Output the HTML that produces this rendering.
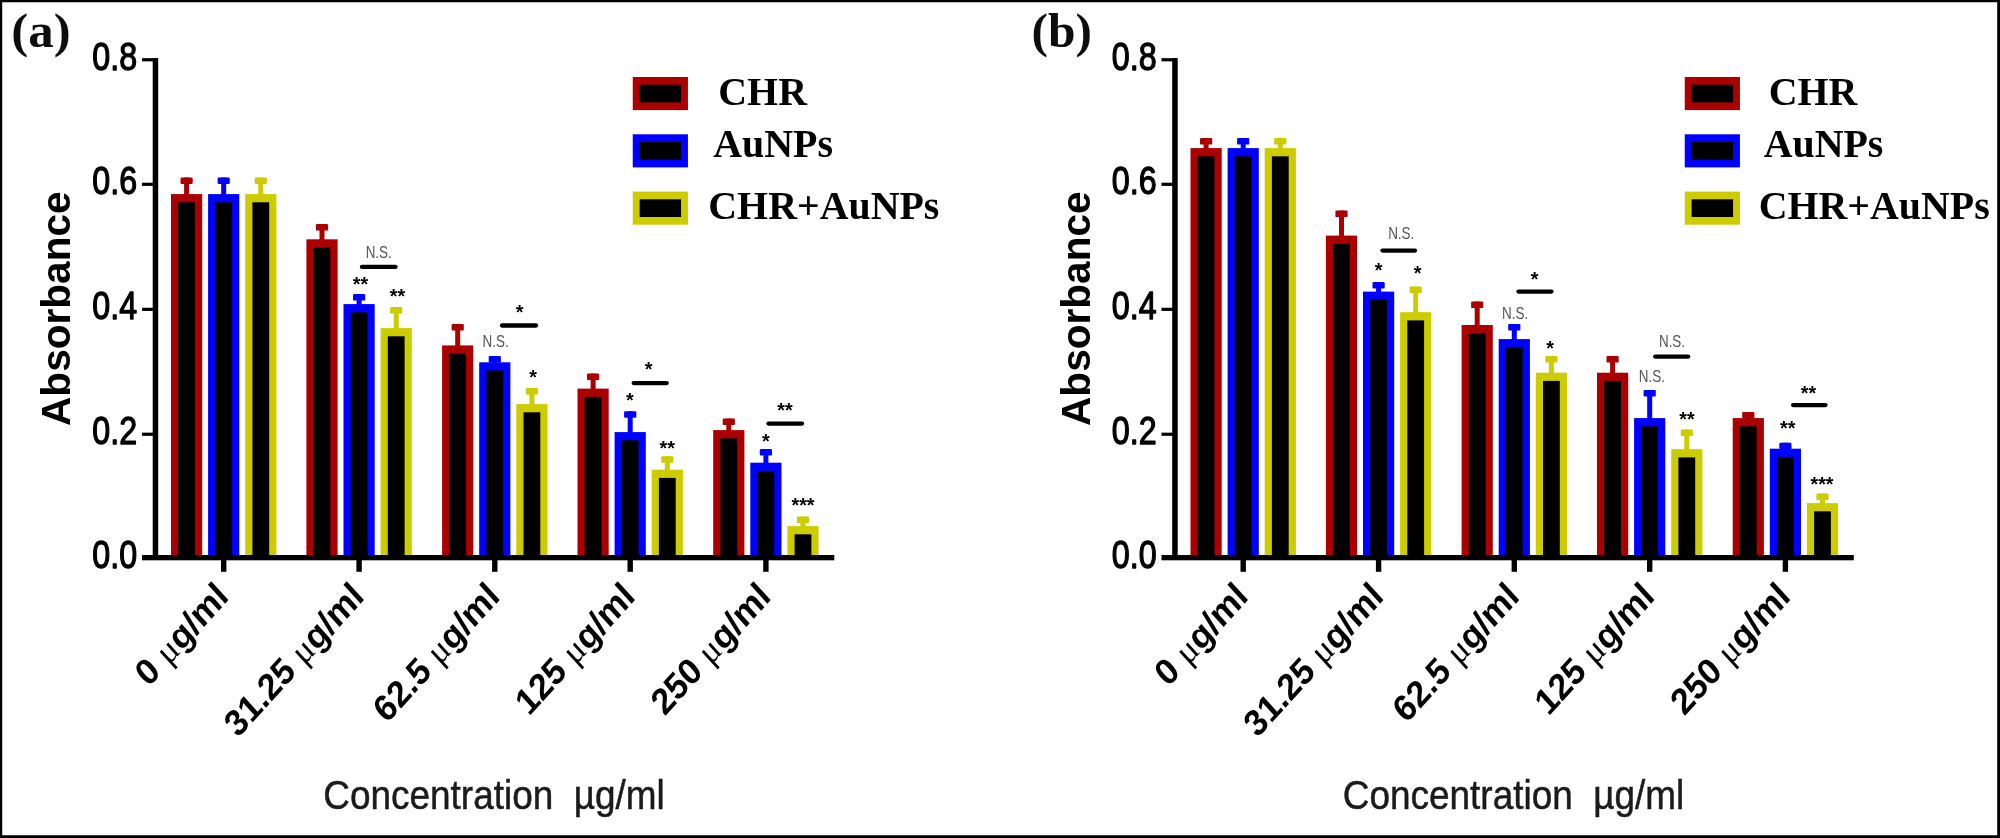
<!DOCTYPE html>
<html lang="en">
<head>
<meta charset="utf-8">
<title>Absorbance vs concentration</title>
<style>
html,body{margin:0;padding:0;background:#fff;}
body{width:2000px;height:838px;overflow:hidden;position:relative;}
svg{position:absolute;left:0;top:0;display:block;}
text{fill:#000;}
.yt{font-family:"Liberation Sans",sans-serif;font-weight:normal;font-size:38.4px;stroke:#000;stroke-width:1.25px;stroke-linejoin:round;}
.ab{font-family:"Liberation Sans",sans-serif;font-weight:bold;font-size:40.6px;}
.xl{font-family:"Liberation Sans",sans-serif;font-weight:bold;font-size:33.6px;}
.mu{font-family:"Liberation Serif",serif;font-weight:normal;}
.xt{font-family:"Liberation Sans",sans-serif;font-size:41.5px;fill:#1a1a1a;stroke:#1a1a1a;stroke-width:0.5px;}
.lg{font-family:"Liberation Serif",serif;font-weight:bold;font-size:39.9px;}
.pl{font-family:"Liberation Serif",serif;font-weight:bold;font-size:48px;fill:#111;}
.st{font-family:"Liberation Sans",sans-serif;font-weight:bold;font-size:19.8px;}
.ns{font-family:"Liberation Sans",sans-serif;font-size:16.8px;fill:#555;}
</style>
</head>
<body>
<svg width="2000" height="838" viewBox="0 0 2000 838">
<rect x="0" y="0" width="2000" height="838" fill="#fff"/>
<defs><filter id="soft" x="0" y="0" width="2000" height="838" filterUnits="userSpaceOnUse"><feGaussianBlur stdDeviation="0.55"/></filter></defs>
<g filter="url(#soft)">
<rect x="0" y="0" width="2000" height="838" fill="#fff"/>
<rect x="184.10" y="177.50" width="5.00" height="18.60" fill="#AA0000"/>
<rect x="180.50" y="177.50" width="12.20" height="6.50" rx="1.2" fill="#AA0000"/>
<rect x="171.00" y="194.10" width="31.20" height="363.40" fill="#AA0000"/>
<rect x="178.20" y="202.30" width="16.80" height="355.20" fill="#000"/>
<rect x="221.20" y="177.50" width="5.00" height="18.60" fill="#0000FF"/>
<rect x="217.60" y="177.50" width="12.20" height="6.50" rx="1.2" fill="#0000FF"/>
<rect x="208.10" y="194.10" width="31.20" height="363.40" fill="#0000FF"/>
<rect x="215.30" y="202.30" width="16.80" height="355.20" fill="#000"/>
<rect x="258.30" y="177.50" width="5.00" height="18.60" fill="#CCCC00"/>
<rect x="254.70" y="177.50" width="12.20" height="6.50" rx="1.2" fill="#CCCC00"/>
<rect x="245.20" y="194.10" width="31.20" height="363.40" fill="#CCCC00"/>
<rect x="252.40" y="202.30" width="16.80" height="355.20" fill="#000"/>
<rect x="319.50" y="224.10" width="5.00" height="17.20" fill="#AA0000"/>
<rect x="315.90" y="224.10" width="12.20" height="6.50" rx="1.2" fill="#AA0000"/>
<rect x="306.40" y="239.30" width="31.20" height="318.20" fill="#AA0000"/>
<rect x="313.60" y="247.50" width="16.80" height="310.00" fill="#000"/>
<rect x="356.60" y="294.10" width="5.00" height="12.00" fill="#0000FF"/>
<rect x="353.00" y="294.10" width="12.20" height="6.50" rx="1.2" fill="#0000FF"/>
<rect x="343.50" y="304.10" width="31.20" height="253.40" fill="#0000FF"/>
<rect x="350.70" y="312.30" width="16.80" height="245.20" fill="#000"/>
<rect x="393.70" y="307.10" width="5.00" height="23.00" fill="#CCCC00"/>
<rect x="390.10" y="307.10" width="12.20" height="6.50" rx="1.2" fill="#CCCC00"/>
<rect x="380.60" y="328.10" width="31.20" height="229.40" fill="#CCCC00"/>
<rect x="387.80" y="336.30" width="16.80" height="221.20" fill="#000"/>
<rect x="455.20" y="324.10" width="5.00" height="23.30" fill="#AA0000"/>
<rect x="451.60" y="324.10" width="12.20" height="6.50" rx="1.2" fill="#AA0000"/>
<rect x="442.10" y="345.40" width="31.20" height="212.10" fill="#AA0000"/>
<rect x="449.30" y="353.60" width="16.80" height="203.90" fill="#000"/>
<rect x="492.30" y="356.10" width="5.00" height="8.20" fill="#0000FF"/>
<rect x="488.70" y="356.10" width="12.20" height="6.50" rx="1.2" fill="#0000FF"/>
<rect x="479.20" y="362.30" width="31.20" height="195.20" fill="#0000FF"/>
<rect x="486.40" y="370.50" width="16.80" height="187.00" fill="#000"/>
<rect x="529.40" y="388.10" width="5.00" height="18.00" fill="#CCCC00"/>
<rect x="525.80" y="388.10" width="12.20" height="6.50" rx="1.2" fill="#CCCC00"/>
<rect x="516.30" y="404.10" width="31.20" height="153.40" fill="#CCCC00"/>
<rect x="523.50" y="412.30" width="16.80" height="145.20" fill="#000"/>
<rect x="590.60" y="373.60" width="5.00" height="17.00" fill="#AA0000"/>
<rect x="587.00" y="373.60" width="12.20" height="6.50" rx="1.2" fill="#AA0000"/>
<rect x="577.50" y="388.60" width="31.20" height="168.90" fill="#AA0000"/>
<rect x="584.70" y="396.80" width="16.80" height="160.70" fill="#000"/>
<rect x="627.70" y="411.30" width="5.00" height="22.80" fill="#0000FF"/>
<rect x="624.10" y="411.30" width="12.20" height="6.50" rx="1.2" fill="#0000FF"/>
<rect x="614.60" y="432.10" width="31.20" height="125.40" fill="#0000FF"/>
<rect x="621.80" y="440.30" width="16.80" height="117.20" fill="#000"/>
<rect x="664.80" y="456.20" width="5.00" height="15.50" fill="#CCCC00"/>
<rect x="661.20" y="456.20" width="12.20" height="6.50" rx="1.2" fill="#CCCC00"/>
<rect x="651.70" y="469.70" width="31.20" height="87.80" fill="#CCCC00"/>
<rect x="658.90" y="477.90" width="16.80" height="79.60" fill="#000"/>
<rect x="726.30" y="418.60" width="5.00" height="13.50" fill="#AA0000"/>
<rect x="722.70" y="418.60" width="12.20" height="6.50" rx="1.2" fill="#AA0000"/>
<rect x="713.20" y="430.10" width="31.20" height="127.40" fill="#AA0000"/>
<rect x="720.40" y="438.30" width="16.80" height="119.20" fill="#000"/>
<rect x="763.40" y="449.10" width="5.00" height="15.60" fill="#0000FF"/>
<rect x="759.80" y="449.10" width="12.20" height="6.50" rx="1.2" fill="#0000FF"/>
<rect x="750.30" y="462.70" width="31.20" height="94.80" fill="#0000FF"/>
<rect x="757.50" y="470.90" width="16.80" height="86.60" fill="#000"/>
<rect x="800.50" y="516.60" width="5.00" height="11.50" fill="#CCCC00"/>
<rect x="796.90" y="516.60" width="12.20" height="6.50" rx="1.2" fill="#CCCC00"/>
<rect x="787.40" y="526.10" width="31.20" height="31.40" fill="#CCCC00"/>
<rect x="794.60" y="534.30" width="16.80" height="23.20" fill="#000"/>
<rect x="152.70" y="58" width="5.5" height="500" fill="#000"/>
<rect x="142.00" y="555" width="692.30" height="5.3" fill="#000"/>
<rect x="142.00" y="58.15" width="14" height="3.2" fill="#000"/>
<rect x="142.00" y="182.70" width="14" height="3.2" fill="#000"/>
<rect x="142.00" y="307.75" width="14" height="3.2" fill="#000"/>
<rect x="142.00" y="432.65" width="14" height="3.2" fill="#000"/>
<rect x="221.00" y="558" width="5.4" height="13.8" fill="#000"/>
<rect x="356.40" y="558" width="5.4" height="13.8" fill="#000"/>
<rect x="492.10" y="558" width="5.4" height="13.8" fill="#000"/>
<rect x="627.50" y="558" width="5.4" height="13.8" fill="#000"/>
<rect x="763.20" y="558" width="5.4" height="13.8" fill="#000"/>
<text class="yt" transform="translate(137.20,69.55) scale(0.84,1)" text-anchor="end">0.8</text>
<text class="yt" transform="translate(137.20,194.10) scale(0.84,1)" text-anchor="end">0.6</text>
<text class="yt" transform="translate(137.20,319.15) scale(0.84,1)" text-anchor="end">0.4</text>
<text class="yt" transform="translate(137.20,444.05) scale(0.84,1)" text-anchor="end">0.2</text>
<text class="yt" transform="translate(137.20,568.40) scale(0.84,1)" text-anchor="end">0.0</text>
<text class="ab" transform="translate(70.00,308.7) rotate(-90)" text-anchor="middle">Absorbance</text>
<text class="xl" transform="translate(230.20,598.30) scale(1,1.10) rotate(-45)" text-anchor="end">0 <tspan class="mu">μ</tspan>g/ml</text>
<text class="xl" transform="translate(365.60,598.30) scale(1,1.10) rotate(-45)" text-anchor="end">31.25 <tspan class="mu">μ</tspan>g/ml</text>
<text class="xl" transform="translate(501.30,598.30) scale(1,1.10) rotate(-45)" text-anchor="end">62.5 <tspan class="mu">μ</tspan>g/ml</text>
<text class="xl" transform="translate(636.70,598.30) scale(1,1.10) rotate(-45)" text-anchor="end">125 <tspan class="mu">μ</tspan>g/ml</text>
<text class="xl" transform="translate(772.40,598.30) scale(1,1.10) rotate(-45)" text-anchor="end">250 <tspan class="mu">μ</tspan>g/ml</text>
<text class="xt" x="323.30" y="809" textLength="341.5" lengthAdjust="spacingAndGlyphs" style="white-space:pre">Concentration  µg/ml</text>
<rect x="632.75" y="77.00" width="55.2" height="33.1" fill="#AA0000"/>
<rect x="639.65" y="84.70" width="41.40" height="17.70" fill="#000"/>
<text class="lg" x="718.30" y="105.30">CHR</text>
<rect x="632.75" y="134.30" width="55.2" height="33.1" fill="#0000FF"/>
<rect x="639.65" y="142.00" width="41.40" height="17.70" fill="#000"/>
<text class="lg" x="713.30" y="156.90">AuNPs</text>
<rect x="632.75" y="191.60" width="55.2" height="33.1" fill="#CCCC00"/>
<rect x="639.65" y="199.30" width="41.40" height="17.70" fill="#000"/>
<text class="lg" x="708.30" y="218.80">CHR+AuNPs</text>
<text class="pl" transform="translate(11.30,46.8) scale(1.06,1)">(a)</text>
<text class="ns" transform="translate(378.70,257.60) scale(0.8,1)" text-anchor="middle">N.S.</text>
<line x1="362.00" y1="266.90" x2="395.50" y2="266.90" stroke="#000" stroke-width="4.3" stroke-linecap="round"/>
<text class="st" x="360.50" y="290.50" text-anchor="middle">**</text>
<text class="st" x="397.50" y="303.30" text-anchor="middle">**</text>
<text class="ns" transform="translate(495.60,347.10) scale(0.8,1)" text-anchor="middle">N.S.</text>
<line x1="502.00" y1="325.50" x2="536.00" y2="325.50" stroke="#000" stroke-width="4.3" stroke-linecap="round"/>
<text class="st" x="519.50" y="319.30" text-anchor="middle">*</text>
<text class="st" x="533.00" y="383.60" text-anchor="middle">*</text>
<text class="st" x="629.90" y="407.30" text-anchor="middle">*</text>
<line x1="633.70" y1="383.10" x2="666.70" y2="383.10" stroke="#000" stroke-width="4.3" stroke-linecap="round"/>
<text class="st" x="648.70" y="376.30" text-anchor="middle">*</text>
<text class="st" x="667.20" y="455.40" text-anchor="middle">**</text>
<text class="st" x="765.90" y="447.70" text-anchor="middle">*</text>
<line x1="768.50" y1="423.60" x2="802.00" y2="423.60" stroke="#000" stroke-width="4.3" stroke-linecap="round"/>
<text class="st" x="785.00" y="416.80" text-anchor="middle">**</text>
<text class="st" x="803.00" y="512.30" text-anchor="middle">***</text>
<rect x="1203.60" y="138.10" width="5.00" height="12.00" fill="#AA0000"/>
<rect x="1200.00" y="138.10" width="12.20" height="6.50" rx="1.2" fill="#AA0000"/>
<rect x="1190.50" y="148.10" width="31.20" height="409.40" fill="#AA0000"/>
<rect x="1197.70" y="156.30" width="16.80" height="401.20" fill="#000"/>
<rect x="1240.70" y="138.10" width="5.00" height="12.00" fill="#0000FF"/>
<rect x="1237.10" y="138.10" width="12.20" height="6.50" rx="1.2" fill="#0000FF"/>
<rect x="1227.60" y="148.10" width="31.20" height="409.40" fill="#0000FF"/>
<rect x="1234.80" y="156.30" width="16.80" height="401.20" fill="#000"/>
<rect x="1277.80" y="138.10" width="5.00" height="12.00" fill="#CCCC00"/>
<rect x="1274.20" y="138.10" width="12.20" height="6.50" rx="1.2" fill="#CCCC00"/>
<rect x="1264.70" y="148.10" width="31.20" height="409.40" fill="#CCCC00"/>
<rect x="1271.90" y="156.30" width="16.80" height="401.20" fill="#000"/>
<rect x="1339.00" y="210.60" width="5.00" height="27.00" fill="#AA0000"/>
<rect x="1335.40" y="210.60" width="12.20" height="6.50" rx="1.2" fill="#AA0000"/>
<rect x="1325.90" y="235.60" width="31.20" height="321.90" fill="#AA0000"/>
<rect x="1333.10" y="243.80" width="16.80" height="313.70" fill="#000"/>
<rect x="1376.10" y="282.10" width="5.00" height="11.50" fill="#0000FF"/>
<rect x="1372.50" y="282.10" width="12.20" height="6.50" rx="1.2" fill="#0000FF"/>
<rect x="1363.00" y="291.60" width="31.20" height="265.90" fill="#0000FF"/>
<rect x="1370.20" y="299.80" width="16.80" height="257.70" fill="#000"/>
<rect x="1413.20" y="286.60" width="5.00" height="27.60" fill="#CCCC00"/>
<rect x="1409.60" y="286.60" width="12.20" height="6.50" rx="1.2" fill="#CCCC00"/>
<rect x="1400.10" y="312.20" width="31.20" height="245.30" fill="#CCCC00"/>
<rect x="1407.30" y="320.40" width="16.80" height="237.10" fill="#000"/>
<rect x="1474.70" y="301.60" width="5.00" height="25.40" fill="#AA0000"/>
<rect x="1471.10" y="301.60" width="12.20" height="6.50" rx="1.2" fill="#AA0000"/>
<rect x="1461.60" y="325.00" width="31.20" height="232.50" fill="#AA0000"/>
<rect x="1468.80" y="333.20" width="16.80" height="224.30" fill="#000"/>
<rect x="1511.80" y="324.00" width="5.00" height="17.10" fill="#0000FF"/>
<rect x="1508.20" y="324.00" width="12.20" height="6.50" rx="1.2" fill="#0000FF"/>
<rect x="1498.70" y="339.10" width="31.20" height="218.40" fill="#0000FF"/>
<rect x="1505.90" y="347.30" width="16.80" height="210.20" fill="#000"/>
<rect x="1548.90" y="356.10" width="5.00" height="18.60" fill="#CCCC00"/>
<rect x="1545.30" y="356.10" width="12.20" height="6.50" rx="1.2" fill="#CCCC00"/>
<rect x="1535.80" y="372.70" width="31.20" height="184.80" fill="#CCCC00"/>
<rect x="1543.00" y="380.90" width="16.80" height="176.60" fill="#000"/>
<rect x="1610.10" y="356.10" width="5.00" height="18.60" fill="#AA0000"/>
<rect x="1606.50" y="356.10" width="12.20" height="6.50" rx="1.2" fill="#AA0000"/>
<rect x="1597.00" y="372.70" width="31.20" height="184.80" fill="#AA0000"/>
<rect x="1604.20" y="380.90" width="16.80" height="176.60" fill="#000"/>
<rect x="1647.20" y="390.00" width="5.00" height="30.10" fill="#0000FF"/>
<rect x="1643.60" y="390.00" width="12.20" height="6.50" rx="1.2" fill="#0000FF"/>
<rect x="1634.10" y="418.10" width="31.20" height="139.40" fill="#0000FF"/>
<rect x="1641.30" y="426.30" width="16.80" height="131.20" fill="#000"/>
<rect x="1684.30" y="429.60" width="5.00" height="21.60" fill="#CCCC00"/>
<rect x="1680.70" y="429.60" width="12.20" height="6.50" rx="1.2" fill="#CCCC00"/>
<rect x="1671.20" y="449.20" width="31.20" height="108.30" fill="#CCCC00"/>
<rect x="1678.40" y="457.40" width="16.80" height="100.10" fill="#000"/>
<rect x="1745.80" y="412.10" width="5.00" height="8.00" fill="#AA0000"/>
<rect x="1742.20" y="412.10" width="12.20" height="6.50" rx="1.2" fill="#AA0000"/>
<rect x="1732.70" y="418.10" width="31.20" height="139.40" fill="#AA0000"/>
<rect x="1739.90" y="426.30" width="16.80" height="131.20" fill="#000"/>
<rect x="1782.90" y="442.70" width="5.00" height="8.00" fill="#0000FF"/>
<rect x="1779.30" y="442.70" width="12.20" height="6.50" rx="1.2" fill="#0000FF"/>
<rect x="1769.80" y="448.70" width="31.20" height="108.80" fill="#0000FF"/>
<rect x="1777.00" y="456.90" width="16.80" height="100.60" fill="#000"/>
<rect x="1820.00" y="493.60" width="5.00" height="11.50" fill="#CCCC00"/>
<rect x="1816.40" y="493.60" width="12.20" height="6.50" rx="1.2" fill="#CCCC00"/>
<rect x="1806.90" y="503.10" width="31.20" height="54.40" fill="#CCCC00"/>
<rect x="1814.10" y="511.30" width="16.80" height="46.20" fill="#000"/>
<rect x="1172.20" y="58" width="5.5" height="500" fill="#000"/>
<rect x="1161.50" y="555" width="692.30" height="5.3" fill="#000"/>
<rect x="1161.50" y="58.15" width="14" height="3.2" fill="#000"/>
<rect x="1161.50" y="182.70" width="14" height="3.2" fill="#000"/>
<rect x="1161.50" y="307.75" width="14" height="3.2" fill="#000"/>
<rect x="1161.50" y="432.65" width="14" height="3.2" fill="#000"/>
<rect x="1240.50" y="558" width="5.4" height="13.8" fill="#000"/>
<rect x="1375.90" y="558" width="5.4" height="13.8" fill="#000"/>
<rect x="1511.60" y="558" width="5.4" height="13.8" fill="#000"/>
<rect x="1647.00" y="558" width="5.4" height="13.8" fill="#000"/>
<rect x="1782.70" y="558" width="5.4" height="13.8" fill="#000"/>
<text class="yt" transform="translate(1156.70,69.55) scale(0.84,1)" text-anchor="end">0.8</text>
<text class="yt" transform="translate(1156.70,194.10) scale(0.84,1)" text-anchor="end">0.6</text>
<text class="yt" transform="translate(1156.70,319.15) scale(0.84,1)" text-anchor="end">0.4</text>
<text class="yt" transform="translate(1156.70,444.05) scale(0.84,1)" text-anchor="end">0.2</text>
<text class="yt" transform="translate(1156.70,568.40) scale(0.84,1)" text-anchor="end">0.0</text>
<text class="ab" transform="translate(1089.50,308.7) rotate(-90)" text-anchor="middle">Absorbance</text>
<text class="xl" transform="translate(1249.70,598.30) scale(1,1.10) rotate(-45)" text-anchor="end">0 <tspan class="mu">μ</tspan>g/ml</text>
<text class="xl" transform="translate(1385.10,598.30) scale(1,1.10) rotate(-45)" text-anchor="end">31.25 <tspan class="mu">μ</tspan>g/ml</text>
<text class="xl" transform="translate(1520.80,598.30) scale(1,1.10) rotate(-45)" text-anchor="end">62.5 <tspan class="mu">μ</tspan>g/ml</text>
<text class="xl" transform="translate(1656.20,598.30) scale(1,1.10) rotate(-45)" text-anchor="end">125 <tspan class="mu">μ</tspan>g/ml</text>
<text class="xl" transform="translate(1791.90,598.30) scale(1,1.10) rotate(-45)" text-anchor="end">250 <tspan class="mu">μ</tspan>g/ml</text>
<text class="xt" x="1342.80" y="809" textLength="341.5" lengthAdjust="spacingAndGlyphs" style="white-space:pre">Concentration  µg/ml</text>
<rect x="1684.75" y="77.00" width="55.2" height="33.1" fill="#AA0000"/>
<rect x="1691.65" y="84.70" width="41.40" height="17.70" fill="#000"/>
<text class="lg" x="1768.70" y="105.30">CHR</text>
<rect x="1684.75" y="134.30" width="55.2" height="33.1" fill="#0000FF"/>
<rect x="1691.65" y="142.00" width="41.40" height="17.70" fill="#000"/>
<text class="lg" x="1763.70" y="156.90">AuNPs</text>
<rect x="1684.75" y="191.60" width="55.2" height="33.1" fill="#CCCC00"/>
<rect x="1691.65" y="199.30" width="41.40" height="17.70" fill="#000"/>
<text class="lg" x="1758.70" y="218.80">CHR+AuNPs</text>
<text class="pl" transform="translate(1031.60,46.8) scale(1.03,1)">(b)</text>
<text class="ns" transform="translate(1401.20,239.10) scale(0.8,1)" text-anchor="middle">N.S.</text>
<line x1="1382.50" y1="250.60" x2="1415.00" y2="250.60" stroke="#000" stroke-width="4.3" stroke-linecap="round"/>
<text class="st" x="1378.50" y="277.30" text-anchor="middle">*</text>
<text class="st" x="1417.50" y="280.30" text-anchor="middle">*</text>
<text class="ns" transform="translate(1515.10,319.20) scale(0.8,1)" text-anchor="middle">N.S.</text>
<line x1="1518.50" y1="291.60" x2="1551.50" y2="291.60" stroke="#000" stroke-width="4.3" stroke-linecap="round"/>
<text class="st" x="1534.50" y="285.80" text-anchor="middle">*</text>
<text class="st" x="1550.10" y="354.90" text-anchor="middle">*</text>
<text class="ns" transform="translate(1672.00,346.80) scale(0.8,1)" text-anchor="middle">N.S.</text>
<line x1="1655.20" y1="356.60" x2="1688.20" y2="356.60" stroke="#000" stroke-width="4.3" stroke-linecap="round"/>
<text class="ns" transform="translate(1651.90,381.70) scale(0.8,1)" text-anchor="middle">N.S.</text>
<text class="st" x="1686.90" y="425.90" text-anchor="middle">**</text>
<text class="st" x="1787.80" y="434.70" text-anchor="middle">**</text>
<line x1="1793.10" y1="405.10" x2="1825.50" y2="405.10" stroke="#000" stroke-width="4.3" stroke-linecap="round"/>
<text class="st" x="1808.40" y="399.50" text-anchor="middle">**</text>
<text class="st" x="1822.00" y="491.30" text-anchor="middle">***</text>
</g>
<path d="M0 0H2000V838H0Z M2.2 2.2V835.3H1997.2V2.2Z" fill="#000" fill-rule="evenodd"/>
</svg>
</body>
</html>
